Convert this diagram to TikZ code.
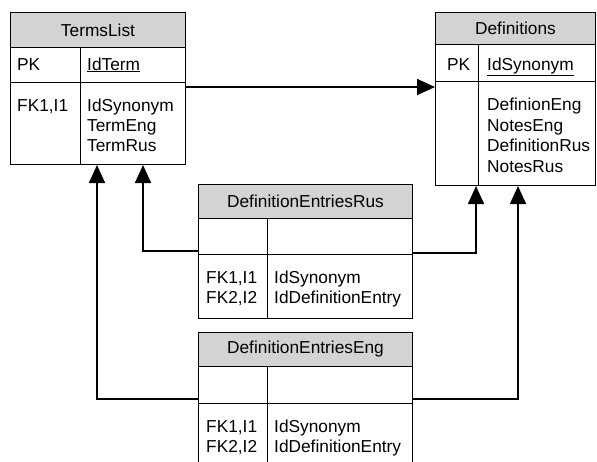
\documentclass[tikz,border=0pt]{standalone}
\usepackage{fontspec}
\setmainfont{Liberation Sans}
\usetikzlibrary{arrows.meta}
\definecolor{headgray}{RGB}{211,211,211}
\begin{document}
\begin{tikzpicture}[x=1pt,y=-1pt,
  every node/.style={font=\fontsize{17.3}{20}\selectfont},
  tbl/.style={draw=black, line width=1pt, inner sep=0pt, anchor=north west},
  head/.style={tbl, fill=headgray},
  field/.style={anchor=base west, inner sep=0pt},
  divider/.style={draw=black, line width=1pt},
  link/.style={draw=black, line width=1.6pt, -{Triangle[length=18pt,width=16pt]}}]
\useasboundingbox (0,0) rectangle (597,461);
\clip (0,0) rectangle (597,461);

% TermsList
\node[head, minimum width=175pt, minimum height=35pt] (terms-head) at (10,12) {TermsList};
\node[tbl, minimum width=175pt, minimum height=35pt] (terms-key) at (10,47) {};
\node[tbl, minimum width=175pt, minimum height=82pt] (terms-body) at (10,82) {};
\draw[divider] ([xshift=70pt]terms-key.north west) -- ([xshift=70pt]terms-body.south west);
\node[field] (terms-pk) at (17,70) {PK};
\node[field] (terms-idterm) at (87,70) {\underline{IdTerm}};
\node[field] (terms-fk) at (17,111) {FK1,I1};
\node[field] (terms-idsyn) at (87,111) {IdSynonym};
\node[field] (terms-eng) at (87,131) {TermEng};
\node[field] (terms-rus) at (87,151) {TermRus};

% Definitions
\node[head, minimum width=160pt, minimum height=32pt] (defs-head) at (435,12) {Definitions};
\node[tbl, minimum width=160pt, minimum height=37pt] (defs-key) at (435,44) {};
\node[tbl, minimum width=160pt, minimum height=104pt] (defs-body) at (435,81) {};
\draw[divider] ([xshift=43pt]defs-key.north west) -- ([xshift=43pt]defs-body.south west);
\node[field] (defs-pk) at (447,70) {PK};
\node[field] (defs-idsyn) at (487,70) {\underline{IdSynonym}};
\node[field] (defs-defeng) at (487,110) {DefinionEng};
\node[field] (defs-noteseng) at (487,131) {NotesEng};
\node[field] (defs-defrus) at (487,151) {DefinitionRus};
\node[field] (defs-notesrus) at (487,172) {NotesRus};

% DefinitionEntriesRus
\node[head, minimum width=214pt, minimum height=34pt] (rus-head) at (198,184) {DefinitionEntriesRus};
\node[tbl, minimum width=214pt, minimum height=36pt] (rus-key) at (198,218) {};
\node[tbl, minimum width=214pt, minimum height=64pt] (rus-body) at (198,254) {};
\draw[divider] ([xshift=69pt]rus-key.north west) -- ([xshift=69pt]rus-body.south west);
\node[field] (rus-fk1) at (206,283) {FK1,I1};
\node[field] (rus-fk2) at (206,303) {FK2,I2};
\node[field] (rus-idsyn) at (274,283) {IdSynonym};
\node[field] (rus-identry) at (274,303) {IdDefinitionEntry};

% DefinitionEntriesEng
\node[head, minimum width=214pt, minimum height=34pt] (eng-head) at (198,332) {DefinitionEntriesEng};
\node[tbl, minimum width=214pt, minimum height=37pt] (eng-key) at (198,366) {};
\node[tbl, minimum width=214pt, minimum height=70pt] (eng-body) at (198,403) {};
\draw[divider] ([xshift=69pt]eng-key.north west) -- ([xshift=69pt]eng-body.south west);
\node[field] (eng-fk1) at (206,432) {FK1,I1};
\node[field] (eng-fk2) at (206,452) {FK2,I2};
\node[field] (eng-idsyn) at (274,432) {IdSynonym};
\node[field] (eng-identry) at (274,452) {IdDefinitionEntry};

% relationships
\draw[link] ([yshift=-5pt]terms-body.north east) -- ([yshift=-6pt]defs-body.north west);
\draw[link] ([yshift=4pt]rus-key.south west) -| ([xshift=133pt]terms-body.south west);
\draw[link] ([yshift=2pt]rus-key.south east) -| ([xshift=41pt]defs-body.south west);
\draw[link] ([yshift=5pt]eng-key.south west) -| ([xshift=87pt]terms-body.south west);
\draw[link] ([yshift=5pt]eng-key.south east) -| ([xshift=83pt]defs-body.south west);
\end{tikzpicture}
\end{document}
